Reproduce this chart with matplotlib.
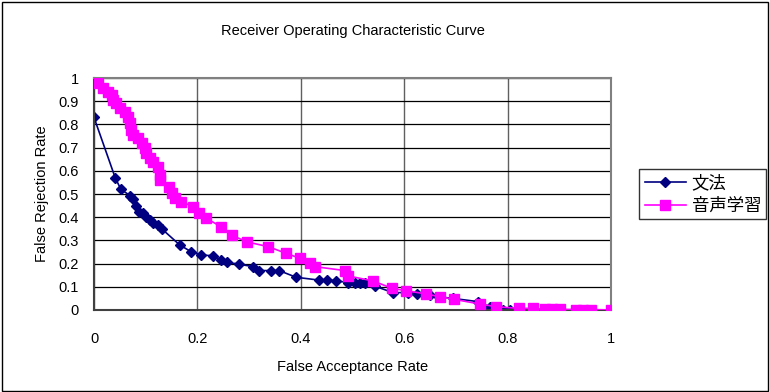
import matplotlib.pyplot as plt

plt.rcParams['font.family'] = ['Liberation Sans', 'Noto Sans CJK JP', 'DejaVu Sans']

# 文法
far_bunpo = [0.0, 0.0, 0.041, 0.052, 0.070, 0.075, 0.082, 0.087, 0.095, 0.101, 0.108, 0.115,
             0.124, 0.132, 0.166, 0.188, 0.206, 0.230, 0.246, 0.258, 0.281, 0.308, 0.320,
             0.343, 0.358, 0.391, 0.435, 0.451, 0.469, 0.491, 0.504, 0.514, 0.524, 0.543,
             0.578, 0.607, 0.624, 0.649, 0.668, 0.694, 0.743, 0.765, 0.778, 0.791, 0.804]
frr_bunpo = [1.0, 0.83, 0.57, 0.52, 0.493, 0.477, 0.45, 0.424, 0.417, 0.402, 0.388, 0.374,
             0.366, 0.348, 0.28, 0.251, 0.237, 0.234, 0.216, 0.206, 0.197, 0.187, 0.17,
             0.17, 0.17, 0.141, 0.129, 0.129, 0.126, 0.118, 0.118, 0.118, 0.115, 0.103,
             0.075, 0.075, 0.069, 0.065, 0.057, 0.05, 0.036, 0.014, 0.003, 0.001, 0.0]

# 音声学習
far_onsei = [0.0, 0.008, 0.017, 0.027, 0.034, 0.037, 0.043, 0.050, 0.059, 0.066, 0.069, 0.072,
             0.075, 0.085, 0.092, 0.098, 0.101, 0.108, 0.114, 0.124, 0.127, 0.127, 0.146,
             0.150, 0.156, 0.169, 0.192, 0.204, 0.217, 0.246, 0.266, 0.295, 0.337, 0.372,
             0.398, 0.417, 0.427, 0.485, 0.491, 0.540, 0.577, 0.604, 0.643, 0.669, 0.696,
             0.746, 0.778, 0.822, 0.849, 0.872, 0.885, 0.901, 0.933, 0.946, 0.962, 1.0]
frr_onsei = [0.99, 0.977, 0.955, 0.941, 0.927, 0.905, 0.891, 0.869, 0.855, 0.833, 0.805, 0.776,
             0.754, 0.74, 0.718, 0.697, 0.675, 0.654, 0.639, 0.618, 0.582, 0.56, 0.531,
             0.503, 0.481, 0.467, 0.445, 0.417, 0.395, 0.359, 0.323, 0.294, 0.273, 0.244,
             0.223, 0.201, 0.187, 0.17, 0.147, 0.125, 0.093, 0.083, 0.069, 0.057, 0.046,
             0.026, 0.014, 0.007, 0.007, 0.003, 0.003, 0.003, 0.002, 0.002, 0.002, 0.0]

fig = plt.figure(figsize=(7.7, 3.92), dpi=100)
# outer chart border
fig.patches.append(plt.Rectangle((0.002, 0.003), 0.995, 0.993, transform=fig.transFigure,
                                 fill=False, edgecolor='black', linewidth=1))
ax = fig.add_axes([0.1221, 0.2092, 0.6714, 0.5918])

ax.plot(far_bunpo, frr_bunpo, color='#000080', marker='D', markersize=5.5, linewidth=1.2,
        label='文法', zorder=2)
ax.plot(far_onsei, frr_onsei, color='#FF00FF', marker='s', markersize=7, linewidth=1.2,
        label='音声学習', zorder=3)

ax.set_xlim(0, 1)
ax.set_ylim(0, 1)
ax.set_xticks([0, 0.2, 0.4, 0.6, 0.8, 1])
ax.set_xticklabels(['0', '0.2', '0.4', '0.6', '0.8', '1'])
ax.set_yticks([i / 10 for i in range(11)])
ax.set_yticklabels(['0', '0.1', '0.2', '0.3', '0.4', '0.5', '0.6', '0.7', '0.8', '0.9', '1'])
ax.tick_params(labelsize=10.5, length=0)
ax.tick_params(axis='x', pad=16)
ax.tick_params(axis='y', pad=11)

ax.yaxis.grid(True, color='black', linewidth=0.9)
ax.xaxis.grid(True, color='#606060', linewidth=1.0)
ax.set_axisbelow(True)
for side in ['top', 'right']:
    ax.spines[side].set_color('#808080')
    ax.spines[side].set_linewidth(1.5)
for side in ['left', 'bottom']:
    ax.spines[side].set_color('#404040')
    ax.spines[side].set_linewidth(1.5)

ax.set_title('Receiver Operating Characteristic Curve', fontsize=10.5, pad=31)
ax.set_xlabel('False Acceptance Rate', fontsize=10.5, labelpad=10)
ax.set_ylabel('False Rejection Rate', fontsize=10.5, labelpad=7)

ax.legend(loc='center left', bbox_to_anchor=(1.055, 0.5), fontsize=12.5, frameon=True,
          fancybox=False, edgecolor='black', handlelength=2.4, borderpad=0.3,
          labelspacing=0.4, handletextpad=0.3, borderaxespad=0)

fig.savefig('out.png', dpi=100)
